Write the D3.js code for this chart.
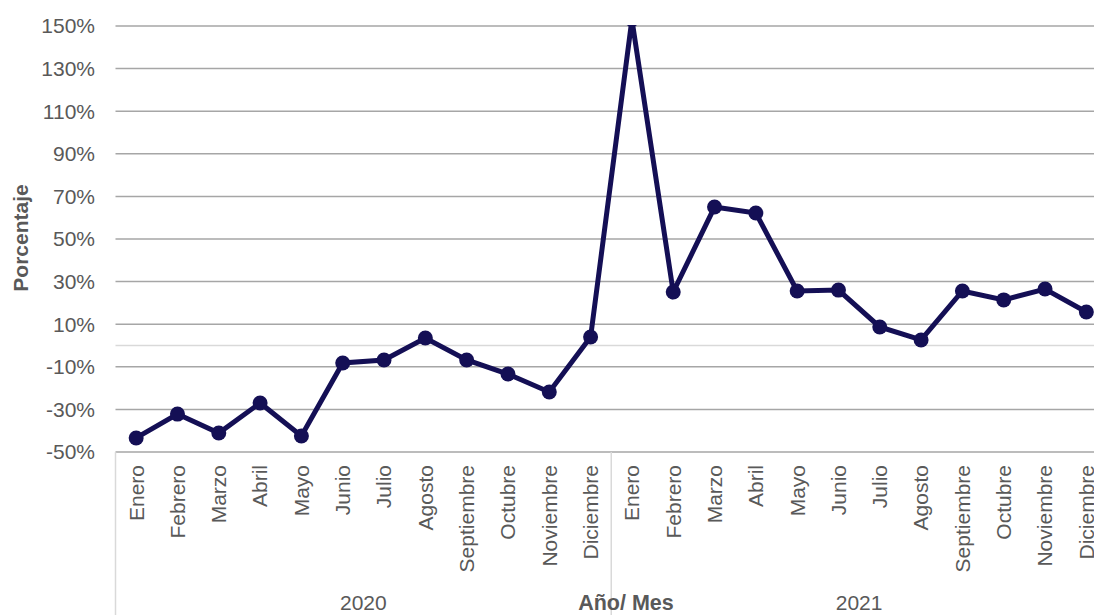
<!DOCTYPE html>
<html lang="es">
<head>
    <meta charset="UTF-8">
    <script src="https://cdn.jsdelivr.net/npm/d3@7"></script>
    <title>Porcentaje por Año/ Mes</title>
    <style>
        body { margin: 0; background: white; }
        text { font-family: "Liberation Sans", Arial, sans-serif; fill: #595959; }
    </style>
</head>
<body>
    <div class="fig"></div>
    <script>
        // datos
        const years = ["2020", "2021"];
        const months = ["Enero", "Febrero", "Marzo", "Abril", "Mayo", "Junio", "Julio",
            "Agosto", "Septiembre", "Octubre", "Noviembre", "Diciembre"];
        const values2020 = [-43.4, -32.2, -41.1, -27, -42.5, -8.2, -6.8, 3.5, -6.8, -13.4, -21.8, 4];
        const values2021 = [153, 25.1, 65, 62.2, 25.6, 26, 8.7, 2.6, 25.6, 21.4, 26.5, 15.7];
        const yTicks = [-50, -30, -10, 10, 30, 50, 70, 90, 110, 130, 150];

        const width = 1094, height = 615;
        const plotLeft = 115.5, plotRight = 1107, plotTop = 26, plotBottom = 452;

        const rows = [];
        years.forEach((yr, i) => {
            const vals = i === 0 ? values2020 : values2021;
            months.forEach((m, j) => rows.push({ key: yr + "-" + m, year: yr, month: m, value: vals[j] }));
        });

        const svg = d3.select(".fig").append("svg")
            .attr("width", width)
            .attr("height", height);

        // plot area clip (peak goes over the top)
        svg.append("defs").append("clipPath")
            .attr("id", "plotClip")
            .append("rect")
            .attr("x", 0).attr("y", plotTop - 1)
            .attr("width", width).attr("height", height);

        const x = d3.scaleBand()
            .domain(rows.map(d => d.key))
            .range([plotLeft, plotRight]);

        const y = d3.scaleLinear()
            .domain([-50, 150])
            .range([plotBottom, plotTop]);

        // gridlines
        svg.append("g").selectAll("line")
            .data(yTicks)
            .enter()
            .append("line")
            .attr("x1", plotLeft).attr("x2", width)
            .attr("y1", d => y(d)).attr("y2", d => y(d))
            .attr("stroke", "#a6a6a6")
            .attr("stroke-width", 1.5);

        // zero line
        svg.append("line")
            .attr("x1", plotLeft).attr("x2", width)
            .attr("y1", y(0)).attr("y2", y(0))
            .attr("stroke", "#d9d9d9")
            .attr("stroke-width", 1.5);

        // y tick labels
        svg.append("g").selectAll("text")
            .data(yTicks)
            .enter()
            .append("text")
            .attr("x", 95)
            .attr("y", d => y(d))
            .attr("dy", "0.35em")
            .attr("text-anchor", "end")
            .style("font-size", "21px")
            .text(d => d + "%");

        // separators for year groups
        const sepX = [plotLeft, x(years[1] + "-" + months[0]), plotRight];
        svg.append("g").selectAll("line")
            .data(sepX)
            .enter()
            .append("line")
            .attr("x1", d => d).attr("x2", d => d)
            .attr("y1", plotBottom).attr("y2", height)
            .attr("stroke", "#d9d9d9")
            .attr("stroke-width", 1.5);

        // month labels
        svg.append("g").selectAll("text")
            .data(rows)
            .enter()
            .append("text")
            .attr("transform", d => `translate(${x(d.key) + x.bandwidth() / 2},465) rotate(-90)`)
            .attr("text-anchor", "end")
            .attr("dy", "0.35em")
            .style("font-size", "21px")
            .text(d => d.month);

        // year labels
        svg.append("g").selectAll("text")
            .data(years)
            .enter()
            .append("text")
            .attr("x", (d, i) => (sepX[i] + sepX[i + 1]) / 2)
            .attr("y", 610)
            .attr("text-anchor", "middle")
            .style("font-size", "21px")
            .text(d => d);

        // axis titles
        svg.append("text")
            .attr("x", 626).attr("y", 610)
            .attr("text-anchor", "middle")
            .style("font-size", "21.5px")
            .style("font-weight", "bold")
            .text("Año/ Mes");

        svg.append("text")
            .attr("transform", "translate(28,238) rotate(-90)")
            .attr("text-anchor", "middle")
            .style("font-size", "21px")
            .style("font-weight", "bold")
            .text("Porcentaje");

        // line + markers
        const line = d3.line()
            .x(d => x(d.key) + x.bandwidth() / 2)
            .y(d => y(d.value));

        const plot = svg.append("g").attr("clip-path", "url(#plotClip)");

        plot.append("path")
            .datum(rows)
            .attr("d", line)
            .attr("fill", "none")
            .attr("stroke", "#140f55")
            .attr("stroke-width", 5)
            .attr("stroke-linejoin", "miter");

        plot.selectAll("circle")
            .data(rows)
            .enter()
            .append("circle")
            .attr("cx", d => x(d.key) + x.bandwidth() / 2)
            .attr("cy", d => y(d.value))
            .attr("r", 7.5)
            .attr("fill", "#140f55");
    </script>
</body>
</html>
